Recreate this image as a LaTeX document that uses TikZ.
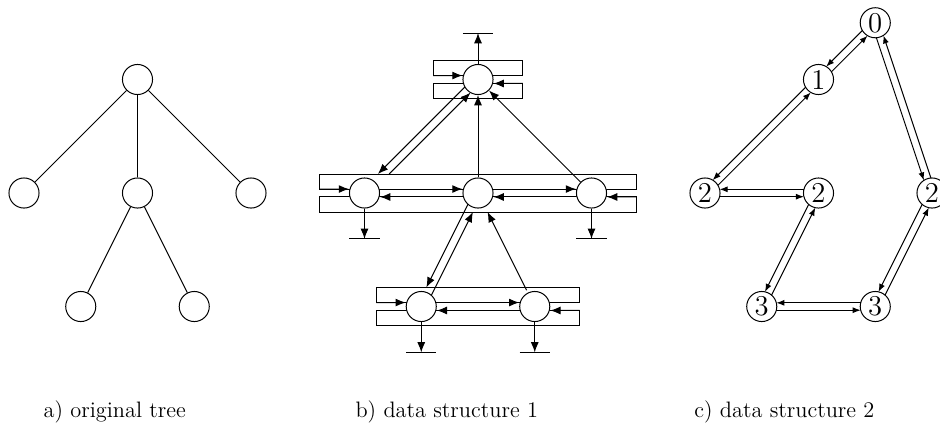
\documentclass[tikz,border=0pt]{standalone}
\usepackage{tikz}
\usetikzlibrary{arrows.meta,calc}
\tikzset{
  lst/vert/.style={
    circle,
    draw,
    fill=white,
    line width=0.5pt,
    minimum size=0.53cm,
    inner sep=0pt
  },
  lst/num/.style={
    lst/vert,
    font=\Large
  },
  lst/bar/.style={draw, line width=0.5pt},
  lst/edge/.style={line width=0.5pt},
  lst/ptr/.style={-{Latex[length=1.8mm,width=1.4mm]}, line width=0.5pt},
  lst/thread/.style={-{Latex[length=1.4mm,width=1.05mm]}, line width=0.5pt, shorten <=2.57mm, shorten >=2.57mm},
  lst/caption/.style={anchor=base, font=\fontsize{11.2}{13}\selectfont}
}

\begin{document}
\begin{tikzpicture}[x=1cm,y=1cm]
  \useasboundingbox (-0.423,-2.264) rectangle (16.141,5.401);

  % a) original tree
  \node[lst/vert] (a0)  at (2,4) {};
  \node[lst/vert] (a1)  at (0,2) {};
  \node[lst/vert] (a2)  at (2,2) {};
  \node[lst/vert] (a3)  at (4,2) {};
  \node[lst/vert] (a21) at (1,0) {};
  \node[lst/vert] (a22) at (3,0) {};
  \foreach \u/\v in {a0/a1,a0/a2,a0/a3,a2/a21,a2/a22}
    \draw[lst/edge] (\u) -- (\v);

  % b) data structure 1 -- sibling bars go below the nodes
  \foreach \l/\r/\y in {7.21/8.79/4, 5.21/10.79/2, 6.21/9.79/0}{
    \draw[lst/bar] (\l,\y+0.07) rectangle (\r,\y+0.335);
    \draw[lst/bar] (\l,\y-0.07) rectangle (\r,\y-0.335);
    \coordinate (in\y)  at (\l,\y+0.07);
    \coordinate (out\y) at (\r,\y-0.07);
  }
  \node[lst/vert] (b0)  at (8,4) {};
  \node[lst/vert] (b1)  at (6,2) {};
  \node[lst/vert] (b2)  at (8,2) {};
  \node[lst/vert] (b3)  at (10,2) {};
  \node[lst/vert] (b21) at (7,0) {};
  \node[lst/vert] (b22) at (9,0) {};

  \foreach \u/\v in {b1/b2, b2/b3, b21/b22}{
    \draw[lst/ptr] ([yshift=0.7mm]\u.east) -- ([yshift=0.7mm]\v.west);
    \draw[lst/ptr] ([yshift=-0.7mm]\v.west) -- ([yshift=-0.7mm]\u.east);
  }
  \foreach \y/\f/\l in {4/b0/b0, 2/b1/b3, 0/b21/b22}{
    \draw[lst/ptr] (in\y) -- ([yshift=0.7mm]\f.west);
    \draw[lst/ptr] (out\y) -- ([yshift=-0.7mm]\l.east);
  }

  % nil pointers
  \draw[lst/ptr] (b0.north) -- ++(0,0.545) coordinate (gb0);
  \draw[lst/edge] ([xshift=-2.65mm]gb0) -- ([xshift=2.65mm]gb0);
  \foreach \n in {b1,b3,b21,b22}{
    \draw[lst/ptr] (\n.south) -- ++(0,-0.535) coordinate (g\n);
    \draw[lst/edge] ([xshift=-2.65mm]g\n) -- ([xshift=2.65mm]g\n);
  }

  % child and parent pointers
  \draw[lst/ptr, shorten <=2.56mm, shorten >=4.04mm] ($(b0)!0.7mm!-90:(b1)$) -- ($(b1)!0.7mm!90:(b0)$);
  \draw[lst/ptr, shorten <=5.44mm, shorten >=2.56mm] ($(b1)!0.7mm!-90:(b0)$) -- ($(b0)!0.7mm!90:(b1)$);
  \draw[lst/ptr] (b2) -- (b0);
  \draw[lst/ptr] (b3) -- (b0);
  \draw[lst/ptr, shorten <=2.56mm, shorten >=3.4mm] ($(b2)!0.7mm!-90:(b21)$) -- ($(b21)!0.7mm!90:(b2)$);
  \draw[lst/ptr, shorten <=2.56mm, shorten >=3.4mm] ($(b21)!0.7mm!-90:(b2)$) -- ($(b2)!0.7mm!90:(b21)$);
  \draw[lst/ptr, shorten <=3.2mm, shorten >=3.75mm] (b22.center) -- (b2.center);

  % c) data structure 2
  \node[lst/num] (c0)  at (15,5) {0};
  \node[lst/num] (c1)  at (14,4) {1};
  \node[lst/num] (c2l) at (12,2) {2};
  \node[lst/num] (c2m) at (14,2) {2};
  \node[lst/num] (c2r) at (16,2) {2};
  \node[lst/num] (c3l) at (13,0) {3};
  \node[lst/num] (c3r) at (15,0) {3};
  \foreach \u/\v in {c0/c1,c1/c2l,c2l/c2m,c2m/c3l,c3l/c3r,c3r/c2r,c2r/c0}{
    \draw[lst/thread] ($(\u)!0.65mm!-90:(\v)$) -- ($(\v)!0.65mm!90:(\u)$);
    \draw[lst/thread] ($(\v)!0.65mm!-90:(\u)$) -- ($(\u)!0.65mm!90:(\v)$);
  }

  % captions
  \node[lst/caption] (capa) at (1.6,-1.96)  {a) original tree};
  \node[lst/caption] (capb) at (7.45,-1.96) {b) data structure 1};
  \node[lst/caption] (capc) at (13.4,-1.96) {c) data structure 2};
\end{tikzpicture}
\end{document}
